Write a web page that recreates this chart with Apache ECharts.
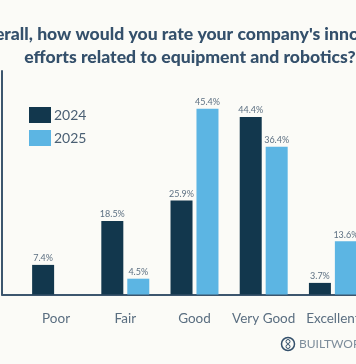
<!DOCTYPE html>
<html><head><meta charset="utf-8"><style>html,body{margin:0;padding:0;background:#fbfbf7}#c{width:356px;height:364px}</style>
<script src="https://cdn.jsdelivr.net/npm/echarts@6/dist/echarts.min.js"></script></head>
<body><div id="c"></div><script>
const categories = ['Poor','Fair','Good','Very Good','Excellent'];
// Percentages as printed above the bars in the reference.
const printed2024 = [7.4,18.5,25.9,44.4,3.7];
const printed2025 = [null,4.5,45.4,36.4,13.6];
// Bar lengths as drawn in the reference. They are not exactly proportional to the
// printed figures (most visibly "25.9%", drawn at about 23.5), so they are kept apart.
const drawn2024 = [7.4,18.4,23.5,44.4,2.9];
const drawn2025 = [null,3.95,46.45,36.95,13.3];
const titleLines = "Overall, how would you rate your company's innovation\nefforts related to equipment and robotics?";
const font = 'Lato';
const chart = echarts.init(document.getElementById('c'),null,{renderer:'canvas'});
const lbl = printed => ({show:true,position:'top',distance:2,fontSize:9,fontFamily:font,color:'#5d7082',
  formatter:p=>printed[p.dataIndex]==null?'':printed[p.dataIndex].toFixed(1)+'%'});
chart.setOption({
  backgroundColor:'#fbfbf7',
  animation:false,
  title:{text:titleLines,left:190,top:23,padding:0,textAlign:'center',textStyle:{fontFamily:font,fontWeight:900,fontSize:17.6,lineHeight:23,color:'#34506b'}},
  legend:{left:29,top:107,padding:0,orient:'vertical',icon:'rect',itemWidth:22,itemHeight:16,itemGap:7,textStyle:{fontFamily:font,fontSize:14,color:'#4a5f73',padding:[2,0,0,-2]},itemStyle:{borderWidth:0},data:['2024','2025']},
  grid:[{left:21.5,width:346,top:94.5,height:200,outerBoundsMode:'none'},{left:2,right:0,top:71,height:223.5,outerBoundsMode:'none'}],
  xAxis:[
    {type:'category',gridIndex:0,data:categories,axisLine:{show:false},axisTick:{show:false},axisLabel:{interval:0,margin:17,hideOverlap:false,fontFamily:font,fontSize:13.5,color:'#5a6e80'}},
    {type:'value',gridIndex:1,min:0,max:1,splitLine:{show:false},axisLabel:{show:false},axisTick:{show:false},axisLine:{show:true,onZero:false,lineStyle:{color:'#3c566e',width:2}}}
  ],
  yAxis:[
    {type:'value',gridIndex:0,min:0,max:50,show:false},
    {type:'value',gridIndex:1,min:0,max:1,splitLine:{show:false},axisLabel:{show:false},axisTick:{show:false},axisLine:{show:true,onZero:false,lineStyle:{color:'#3c566e',width:2}}}
  ],
  series:[
    {name:'2024',type:'bar',data:drawn2024,barWidth:22,barGap:'18%',itemStyle:{color:'#12374d'},label:lbl(printed2024)},
    {name:'2025',type:'bar',data:drawn2025,barWidth:22,itemStyle:{color:'#5cb5e3'},label:lbl(printed2025)}
  ],
  graphic:[
    {type:'circle',shape:{cx:288,cy:344,r:6.5},style:{fill:'none',stroke:'#34506b',lineWidth:1.5}},
    {type:'circle',shape:{cx:288,cy:341.5,r:2},style:{fill:'none',stroke:'#34506b',lineWidth:1}},
    {type:'circle',shape:{cx:288,cy:346.5,r:2},style:{fill:'none',stroke:'#34506b',lineWidth:1}},
    {type:'text',style:{x:299,y:344,text:'BUILTWORLDS',fontFamily:font,fontSize:12,fill:'#7d8d9b',verticalAlign:'middle'}}
  ]
});
</script></body></html>
